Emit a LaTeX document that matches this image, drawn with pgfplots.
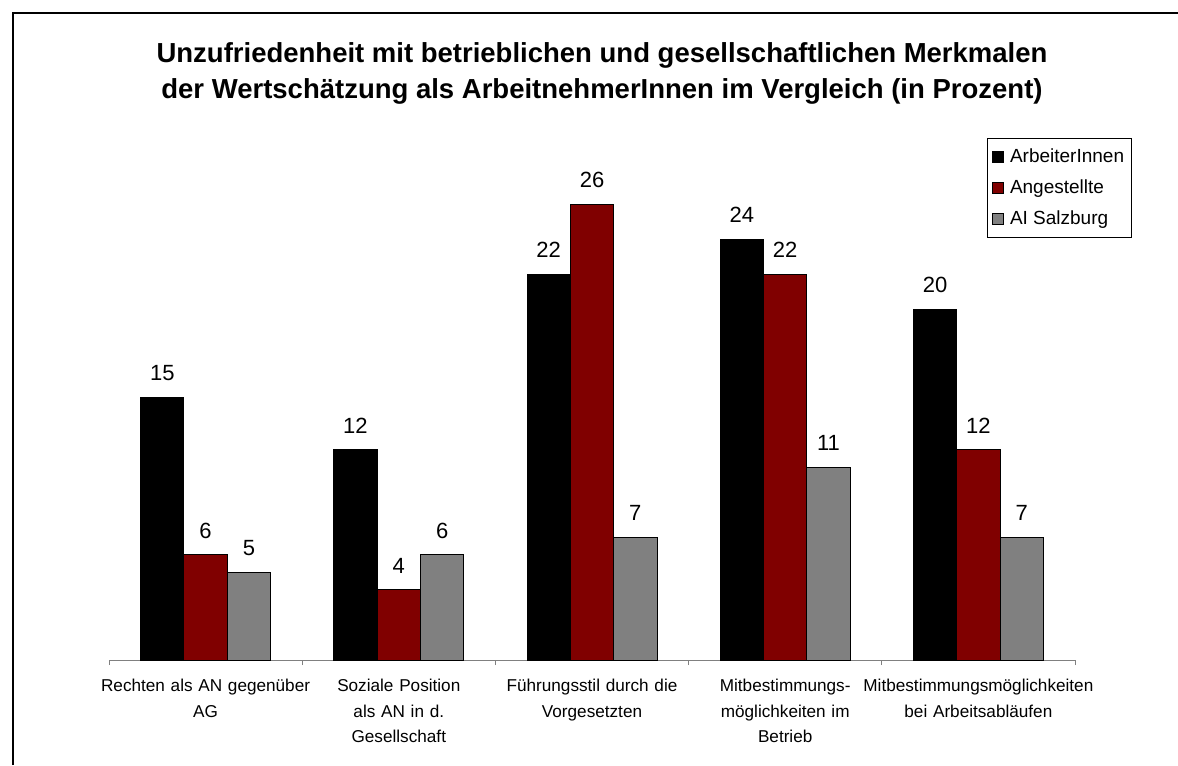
\documentclass[border=0pt]{standalone}
\usepackage{fontspec}
\setmainfont{Liberation Sans}
\usepackage{pgfplots}
\pgfplotsset{compat=1.18}
\definecolor{angest}{HTML}{800000}
\definecolor{aisbg}{HTML}{808080}

\begin{document}
\begin{tikzpicture}
% page = 1178 x 765 px at 0.6pt per px
\path[use as bounding box] (0,0) rectangle (706.8pt,459pt);
\draw[line width=1.2pt] (7.8pt,0pt) -- (7.8pt,451.2pt) -- (706.8pt,451.2pt);

\node[anchor=base,font=\bfseries\fontsize{16.5}{18}\selectfont] at (361.2pt,421.2pt)
  {Unzufriedenheit mit betrieblichen und gesellschaftlichen Merkmalen};
\node[anchor=base,font=\bfseries\fontsize{16.5}{18}\selectfont] at (361.2pt,399.6pt)
  {der Wertschätzung als ArbeitnehmerInnen im Vergleich (in Prozent)};

\begin{axis}[
  at={(65.4pt,63pt)}, anchor=south west,
  scale only axis, width=579.6pt, height=315.5pt,
  xmin=-0.5, xmax=4.5, ymin=0, ymax=30,
  ybar=0pt, bar width=26pt,
  axis y line=none, axis x line*=bottom,
  x axis line style={draw=aisbg, line width=0.6pt},
  xtick={0,...,4},
  xticklabels={{Rechten als AN gegenüber\\AG},
               {Soziale Position\\als AN in d.\\Gesellschaft},
               {Führungsstil durch die\\Vorgesetzten},
               {Mitbestimmungs-\\möglichkeiten im\\Betrieb},
               {Mitbestimmungsmöglichkeiten\\bei Arbeitsabläufen}},
  major tick length=0pt,
  minor xtick={-0.5,0.5,...,4.5},
  minor tick length=3pt,
  tick align=outside,
  minor tick style={draw=aisbg, line width=0.6pt},
  xticklabel style={font=\fontsize{10.3}{15.3}\selectfont, text width=180pt,
    align=center, anchor=north, inner sep=0pt, yshift=-11.4pt},
  /pgf/number format/assume math mode=true,
  nodes near coords,
  nodes near coords style={font=\fontsize{13.2}{15}\selectfont, text=black,
    anchor=south, inner sep=0pt, yshift=9.6pt},
  every axis plot/.append style={draw=black, line width=0.6pt},
  legend style={at={(0.9089,0.9926)}, anchor=north west, draw=black,
    line width=0.6pt, font=\fontsize{11.4}{13}\selectfont,
    row sep=5pt, inner xsep=2.5pt, inner ysep=4pt},
  legend cell align=left,
  legend image code/.code={\draw[#1] (0pt,-3.3pt) rectangle (6.8pt,3.4pt);
    \path (8.4pt,0pt);},
  clip=false,
]
\addplot[fill=black] coordinates {(0,15) (1,12) (2,22) (3,24) (4,20)};
\addplot[fill=angest] coordinates {(0,6) (1,4) (2,26) (3,22) (4,12)};
\addplot[fill=aisbg] coordinates {(0,5) (1,6) (2,7) (3,11) (4,7)};
\legend{ArbeiterInnen, Angestellte, AI Salzburg}
\end{axis}
\end{tikzpicture}
\end{document}
